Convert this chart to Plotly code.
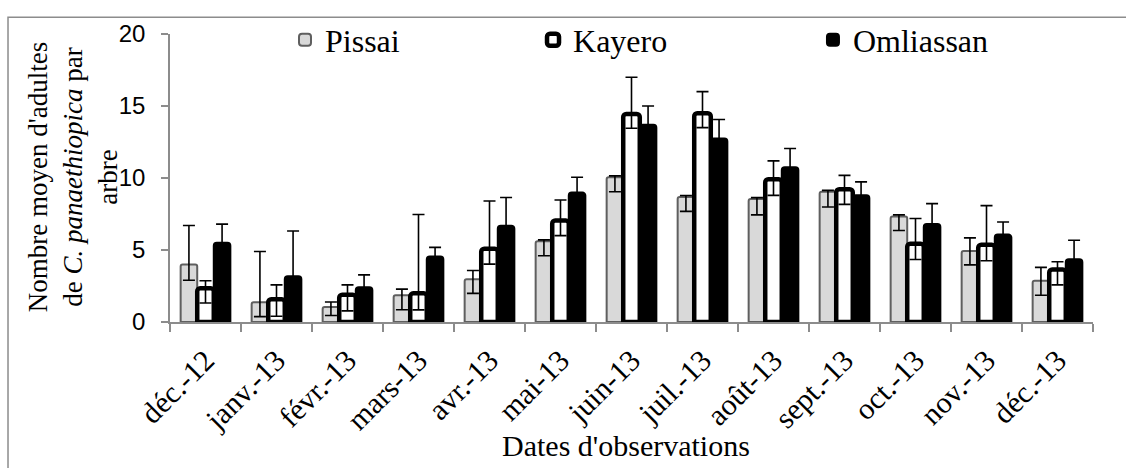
import plotly.graph_objects as go

categories = ["déc.-12", "janv.-13", "févr.-13", "mars-13", "avr.-13", "mai-13",
              "juin-13", "juil.-13", "août-13", "sept.-13", "oct.-13", "nov.-13", "déc.-13"]

pissai = [4.0, 1.37, 1.05, 1.85, 2.97, 5.6, 10.05, 8.68, 8.54, 9.04, 7.33, 4.93, 2.86]
pissai_err_plus = [2.7, 3.53, 0.34, 0.43, 0.61, 0.1, 0.1, 0.1, 0.1, 0.1, 0.11, 0.91, 0.93]
pissai_err_minus = [1.1, 1.0, 0.6, 1.0, 0.98, 1.0, 1.0, 1.0, 1.1, 1.05, 0.98, 0.96, 1.0]

kayero = [2.35, 1.58, 1.9, 1.99, 5.09, 7.05, 14.45, 14.5, 9.91, 9.22, 5.43, 5.36, 3.65]
kayero_err_plus = [0.51, 1.0, 0.68, 5.48, 3.31, 1.42, 2.55, 1.5, 1.28, 0.96, 1.76, 2.72, 0.53]
kayero_err_minus = [1.03, 1.18, 1.13, 1.15, 1.07, 1.05, 1.0, 1.0, 1.12, 1.05, 1.09, 1.11, 1.07]

omliassan = [5.5, 3.17, 2.42, 4.54, 6.69, 8.99, 13.7, 12.74, 10.75, 8.81, 6.8, 6.07, 4.36]
omliassan_err_plus = [1.3, 3.15, 0.85, 0.64, 1.96, 1.06, 1.3, 1.32, 1.3, 0.92, 1.42, 0.87, 1.32]
omliassan_err_minus = [1.3, 3.15, 0.85, 0.64, 1.96, 1.06, 1.3, 1.32, 1.3, 0.92, 1.42, 0.87, 1.32]

y_ticks = [0, 5, 10, 15, 20]

SERIF = "Liberation Serif, serif"
SANS = "Liberation Sans, sans-serif"

fig = go.Figure()

def err(plus, minus):
    return dict(type="data", symmetric=False, array=plus, arrayminus=minus,
                color="black", thickness=1.6, width=6)

fig.add_trace(go.Bar(
    name="Pissai", x=categories, y=pissai, legend="legend", showlegend=True,
    marker=dict(color="#d9d9d9", line=dict(color="#5f5f5f", width=2), cornerradius=2),
    error_y=err(pissai_err_plus, pissai_err_minus),
))
fig.add_trace(go.Bar(
    name="Kayero", x=categories, y=kayero, legend="legend2", showlegend=True,
    marker=dict(color="white", line=dict(color="black", width=4.5), cornerradius=3),
    error_y=err(kayero_err_plus, kayero_err_minus),
))
fig.add_trace(go.Bar(
    name="Omliassan", x=categories, y=omliassan, legend="legend3", showlegend=True,
    marker=dict(color="black", line=dict(color="black", width=2), cornerradius=3),
    error_y=err(omliassan_err_plus, omliassan_err_minus),
))

def legend_at(x):
    return dict(orientation="h", yanchor="top", y=1.075, xanchor="left", x=x,
                bgcolor="rgba(0,0,0,0)", borderwidth=0,
                font=dict(family=SERIF, size=32, color="black"), itemwidth=30)

fig.update_layout(
    width=1126, height=468,
    margin=dict(l=170, r=33, t=30, b=146),
    paper_bgcolor="white", plot_bgcolor="white",
    showlegend=True,
    font=dict(family=SERIF, color="black"),
    barmode="group", bargap=0.3, bargroupgap=0.0,
    legend=legend_at(0.1246),
    legend2=legend_at(0.3933),
    legend3=legend_at(0.6966),
    xaxis=dict(
        showline=True, linecolor="#8c8c8c", linewidth=1.5,
        ticks="outside", tickson="boundaries", ticklen=8, tickcolor="#8c8c8c", tickwidth=1.5,
        tickangle=-45, tickfont=dict(family=SERIF, size=30, color="black"),
        ticklabelstandoff=7,
        showgrid=False, zeroline=False,
    ),
    yaxis=dict(
        range=[0, 20], tickvals=y_ticks, ticktext=[str(v) for v in y_ticks],
        showline=True, linecolor="#8c8c8c", linewidth=1.5,
        ticks="outside", ticklen=7, tickcolor="#8c8c8c", tickwidth=1.5,
        tickfont=dict(family=SANS, size=24, color="black"),
        ticklabelstandoff=11,
        showgrid=False, zeroline=False,
    ),
    annotations=[
        dict(text="Nombre moyen d'adultes<br>de <i>C. panaethiopica</i> par<br>arbre",
             xref="paper", yref="paper", x=-0.1051, y=0.503, xanchor="center", yanchor="middle",
             textangle=-90, showarrow=False, font=dict(family=SERIF, size=27, color="black")),
        dict(text="Dates d'observations", xref="paper", yref="paper", x=0.494, y=-0.43,
             xanchor="center", yanchor="middle", showarrow=False,
             font=dict(family=SERIF, size=30, color="black")),
    ],
    shapes=[
        dict(type="rect", xref="paper", yref="paper", x0=-0.1755, x1=1.1, y0=-0.6, y1=1.0582,
             line=dict(color="#8c8c8c", width=1.5), fillcolor="rgba(0,0,0,0)", layer="below"),
    ],
)

fig.write_html("out.html")
